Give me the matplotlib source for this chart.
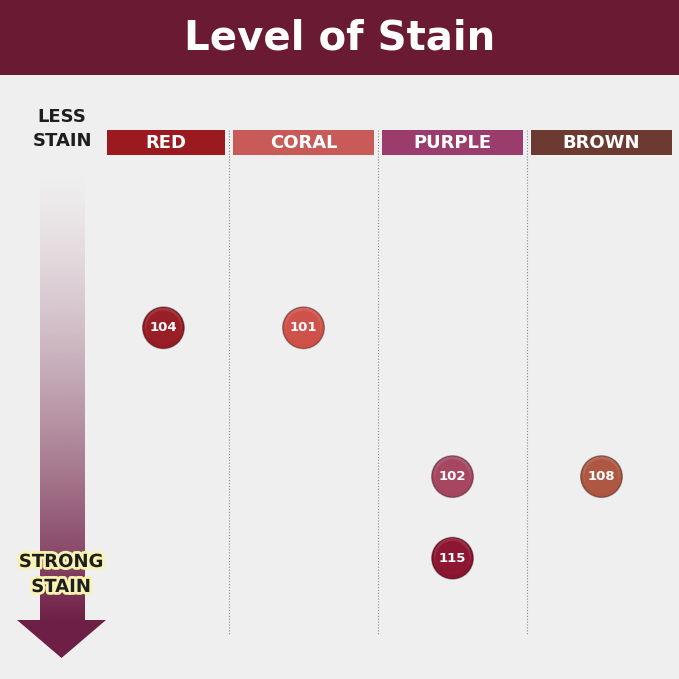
import numpy as np
import matplotlib.pyplot as plt
from matplotlib.patches import Rectangle, Polygon
from matplotlib.colors import to_rgb
import matplotlib.patheffects as pe

# data
categories = ['RED', 'CORAL', 'PURPLE', 'BROWN']
header_colors = ['#9b1a1f', '#c85a58', '#9b3d6c', '#6c3a30']
shades = ['104', '101', '102', '108', '115']
shade_category = ['RED', 'CORAL', 'PURPLE', 'BROWN', 'PURPLE']
stain_level = [3.6, 3.6, 6.7, 6.7, 8.4]   # 0 = less stain, 10 = strong stain
shade_colors = ['#961b22', '#cf4f47', '#a6435f', '#ad5540', '#8c1330']

W = 679
bg = '#f0efef'
maroon = '#6b1a33'
arrow_col = '#6e1f45'

fig = plt.figure(figsize=(6.79, 6.79), dpi=100)
fig.patch.set_facecolor(bg)

# decoration layer in pixel coordinates
deco = fig.add_axes([0, 0, 1, 1])
deco.axis('off')
deco.set_facecolor(bg)

deco.add_patch(Rectangle((0, 0), W, 75, color=maroon, lw=0))
deco.text(W / 2, 39, 'Level of Stain', color='white', fontsize=29,
          fontweight='bold', ha='center', va='center')

# column boundaries (px)
bounds = [80, 229, 378, 527, 676]
for i, (cat, col) in enumerate(zip(categories, header_colors)):
    x0 = bounds[i] + 4 if i > 0 else 107
    x1 = bounds[i + 1] - 4
    deco.add_patch(Rectangle((x0, 130), x1 - x0, 25, color=col, lw=0))
    deco.text((x0 + x1) / 2, 143, cat, color='white', fontsize=13,
              fontweight='bold', ha='center', va='center')
for b in bounds[1:-1]:
    deco.plot([b, b], [130, 635], color='#8a8a8a', lw=0.8,
              linestyle=(0, (1, 1.6)))

# gradient arrow
n = 256
t = np.linspace(0, 1, n)
grad = np.zeros((n, 1, 4))
grad[:, 0, :3] = to_rgb(arrow_col)
grad[:, 0, 3] = t ** 1.4
deco.imshow(grad, extent=(40, 85, 622, 165), aspect='auto', interpolation='bicubic')
deco.add_patch(Polygon([(17, 620), (106, 620), (61.5, 658)], closed=True,
                       color=arrow_col, lw=0))
deco.set_xlim(0, W)
deco.set_ylim(W, 0)

deco.text(62, 117, 'LESS', fontsize=13, fontweight='bold', color='#1e1e1e',
          ha='center', va='center')
deco.text(62, 141, 'STAIN', fontsize=13, fontweight='bold', color='#1e1e1e',
          ha='center', va='center')
glow = [pe.withStroke(linewidth=4, foreground='#f8f3b0')]
deco.text(61, 562, 'STRONG', fontsize=13, fontweight='bold', color='#1e1e1e',
          ha='center', va='center', path_effects=glow)
deco.text(61, 587, 'STAIN', fontsize=13, fontweight='bold', color='#1e1e1e',
          ha='center', va='center', path_effects=glow)

# data layer: categories across, stain level down
ax = fig.add_axes([bounds[0] / W, (W - 635) / W, (bounds[-1] - bounds[0]) / W, 480 / W])
ax.set_xlim(-0.5, len(categories) - 0.5)
ax.set_ylim(10, 0)
ax.axis('off')
ax.patch.set_alpha(0)

xs = [categories.index(c) for c in shade_category]
xs = [x + 0.06 if c == 'RED' else x for x, c in zip(xs, shade_category)]
ax.scatter(xs, stain_level, s=900, c=shade_colors, edgecolors='#00000055',
           linewidths=1, zorder=3)
ax.scatter(xs, [y - 0.04 for y in stain_level], s=700, c='white',
           edgecolors='none', zorder=4, alpha=0.12)
ax.scatter(xs, stain_level, s=620, c=shade_colors, edgecolors='none',
           zorder=4.5, alpha=0.85)
for x, y, lab in zip(xs, stain_level, shades):
    ax.text(x, y, lab, color='white', fontsize=9.5, fontweight='bold',
            ha='center', va='center', zorder=5)

fig.savefig('out.png', dpi=100, facecolor=bg)
